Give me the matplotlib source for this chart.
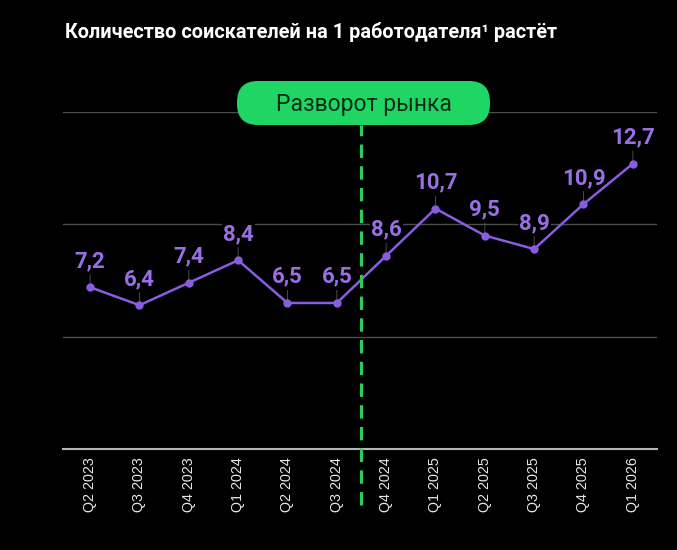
import matplotlib.pyplot as plt
from matplotlib.patches import FancyBboxPatch
from matplotlib.transforms import IdentityTransform

quarters = ["Q2 2023", "Q3 2023", "Q4 2023", "Q1 2024", "Q2 2024", "Q3 2024",
            "Q4 2024", "Q1 2025", "Q2 2025", "Q3 2025", "Q4 2025", "Q1 2026"]
applicants = [7.2, 6.4, 7.4, 8.4, 6.5, 6.5, 8.6, 10.7, 9.5, 8.9, 10.9, 12.7]
turn_position = 5.5
title = "Количество соискателей на 1 работодателя¹ растёт"
turn_label = "Разворот рынка"

LINE = "#8a5ce2"
LABEL = "#9a6fe6"
GREEN = "#1fd665"
DASH = "#2dcc5a"


def main():
    fig = plt.figure(figsize=(6.77, 5.5), dpi=100, facecolor="black")
    ax = fig.add_axes([63 / 677, 1 - 449 / 550, 594 / 677, 337 / 550])
    ax.set_facecolor("black")

    x = list(range(len(quarters)))
    ax.plot(x, applicants, color=LINE, lw=1.8, marker="o", markersize=5,
            zorder=3)

    for xi, v in zip(x, applicants):
        ax.annotate(
            f"{v:.1f}".replace(".", ","),
            xy=(xi, v), xytext=(0, 14.5), textcoords="offset points",
            ha="center", va="baseline", color=LABEL, fontsize=16,
            fontweight="bold", family="Roboto",
            bbox=dict(boxstyle="square,pad=0.05", fc="black", ec="none"),
            arrowprops=dict(arrowstyle="-", color="#4a4a4a", lw=0.7,
                            shrinkA=1, shrinkB=0),
            zorder=2.5,
        )

    ax.set_xlim(-0.55, 11.49)
    ax.set_ylim(0, 15)
    ax.set_yticks([5, 10, 15])
    ax.yaxis.grid(True, color="#4d4d4d", lw=1)
    ax.set_yticklabels([])
    ax.tick_params(axis="y", length=0)
    for side in ["top", "right", "left"]:
        ax.spines[side].set_visible(False)
    ax.spines["bottom"].set_color("#b5b5b5")
    ax.spines["bottom"].set_linewidth(1.5)

    ax.set_xticks(x)
    ax.set_xticklabels(quarters, rotation=90, color="#e8e8e8", fontsize=10.3,
                       family="Liberation Sans")
    ax.tick_params(axis="x", length=0, pad=6)

    ax.axvline(turn_position, ymin=-0.166, ymax=0.96, color=DASH, lw=2.3,
               linestyle=(0, (4.2, 2.6)), clip_on=False, zorder=5)

    box = FancyBboxPatch((237, 550 - 125), 253, 44,
                         boxstyle="round,pad=0,rounding_size=21",
                         transform=IdentityTransform(), fc=GREEN, ec="none",
                         zorder=6)
    fig.patches.append(box)
    fig.text(363.5 / 677, 1 - 104 / 550, turn_label, ha="center", va="center",
             fontsize=16.5, family="Roboto", color="#0c2a14", zorder=7)

    fig.text(65 / 677, 1 - 38 / 550, title, ha="left", va="baseline",
             fontsize=14.3, fontweight="bold", family="Roboto", color="white")

    fig.savefig("out.png", dpi=100, facecolor="black")


if __name__ == "__main__":
    main()
